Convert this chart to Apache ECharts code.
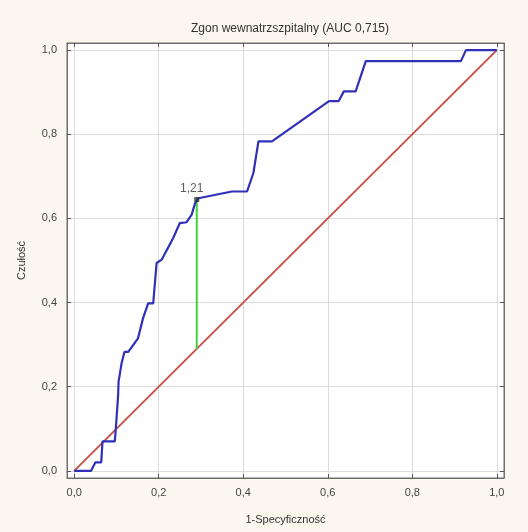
<!DOCTYPE html>
<html>
<head>
<meta charset="utf-8">
<script src="https://cdn.jsdelivr.net/npm/echarts@6/dist/echarts.min.js"></script>
<style>
html,body{margin:0;padding:0;background:#fcf7ee;}
#chart{width:528px;height:532px;}
</style>
</head>
<body>
<div id="chart"></div>
<script>
// krzywa ROC
var rocX = [0, 0.04, 0.05, 0.064, 0.067, 0.096, 0.098, 0.104, 0.105, 0.108, 0.112, 0.119, 0.128, 0.151, 0.163, 0.175, 0.187, 0.195, 0.207, 0.234, 0.25, 0.266, 0.278, 0.286, 0.29, 0.294, 0.373, 0.409, 0.424, 0.436, 0.468, 0.603, 0.626, 0.638, 0.666, 0.69, 0.915, 0.927, 1];
var rocY = [0, 0, 0.02, 0.02, 0.07, 0.07, 0.093, 0.18, 0.212, 0.23, 0.255, 0.283, 0.283, 0.315, 0.363, 0.398, 0.398, 0.494, 0.502, 0.553, 0.589, 0.591, 0.609, 0.636, 0.642, 0.648, 0.664, 0.664, 0.708, 0.783, 0.783, 0.879, 0.879, 0.902, 0.902, 0.974, 0.974, 1, 1];
var diagX = [0, 1];
var diagY = [0, 1];
// punkt odciecia
var cutX = 0.29;
var cutY = [0.29, 0.645];
var cutLabel = '1,21';
var tickVals = [0, 0.2, 0.4, 0.6, 0.8, 1];

function zip(a, b) {
	var out = [];
	for (var i = 0; i < a.length; i++) out.push([a[i], b[i]]);
	return out;
}
function fmt(v) {
	return v.toFixed(1).replace('.', ',');
}

var axisBase = {
	type: 'value',
	min: -0.017,
	max: 1.017,
	axisLine: { show: true, onZero: false, lineStyle: { color: '#6e6e6e', width: 1 } },
	axisTick: { show: true, inside: true, length: 4, customValues: tickVals, lineStyle: { color: '#555' } },
	splitLine: { show: true, lineStyle: { color: '#dcdcdc', width: 1 } },
	axisLabel: { show: true, customValues: tickVals, formatter: fmt, color: '#444', fontSize: 11, fontFamily: 'Liberation Sans' }
};
function axis(extra) {
	return echarts.util.merge(echarts.util.clone(axisBase), extra, true);
}

var option = {
	backgroundColor: '#fcf7ee',
	animation: false,
	title: {
		text: 'Zgon wewnatrzszpitalny (AUC 0,715)',
		left: 285, top: 18, textAlign: 'center',
		textStyle: { fontSize: 12, fontWeight: 'normal', color: '#333', fontFamily: 'Liberation Sans' }
	},
	grid: { left: 67, top: 43, width: 437, height: 435, show: true, backgroundColor: '#fff', borderColor: '#6e6e6e' },
	xAxis: [
		axis({ position: 'bottom', name: '1-Specyficzność', nameLocation: 'middle', nameGap: 36,
			nameTextStyle: { color: '#333', fontSize: 11, fontFamily: 'Liberation Sans' }, axisLabel: { margin: 9 } }),
		axis({ position: 'top', splitLine: { show: false }, axisLabel: { show: false } })
	],
	yAxis: [
		axis({ position: 'left', name: 'Czułość', nameLocation: 'middle', nameGap: 40,
			nameTextStyle: { color: '#333', fontSize: 11, fontFamily: 'Liberation Sans' }, axisLabel: { margin: 10 } }),
		axis({ position: 'right', splitLine: { show: false }, axisLabel: { show: false } })
	],
	series: [
		{
			type: 'line', data: zip(diagX, diagY), showSymbol: false,
			lineStyle: { color: '#c8534a', width: 2 }, z: 2
		},
		{
			type: 'line', data: zip([cutX, cutX], cutY), showSymbol: false,
			lineStyle: { color: '#3ed23e', width: 2 }, z: 3
		},
		{
			type: 'line', data: zip(rocX, rocY), showSymbol: false,
			lineStyle: { color: '#3030b8', width: 2.2 }, z: 4
		},
		{
			type: 'scatter', data: [[cutX, cutY[1]]], symbol: 'rect', symbolSize: 5,
			itemStyle: { color: '#1f3a2a' }, z: 5,
			label: { show: true, formatter: cutLabel, position: 'top', offset: [-5, 0], distance: 2,
				color: '#333', fontSize: 12, fontFamily: 'Liberation Sans' }
		}
	]
};

var chart = echarts.init(document.getElementById('chart'));
chart.setOption(option);
</script>
</body>
</html>
